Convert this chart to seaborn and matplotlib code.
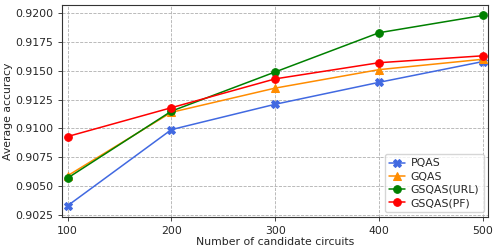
import pandas as pd
import seaborn as sns
import matplotlib.pyplot as plt

circuits = [100, 200, 300, 400, 500]
pqas = [0.9033, 0.9099, 0.9121, 0.9140, 0.9158]
gqas = [0.9059, 0.9114, 0.9135, 0.9151, 0.9160]
gsqas_url = [0.9057, 0.9115, 0.9149, 0.9183, 0.9198]
gsqas_pf = [0.9093, 0.9118, 0.9143, 0.9157, 0.9163]

series = {
    "PQAS": (pqas, "royalblue", "X"),
    "GQAS": (gqas, "darkorange", "^"),
    "GSQAS(URL)": (gsqas_url, "green", "o"),
    "GSQAS(PF)": (gsqas_pf, "red", "o"),
}

sns.set_style("ticks")
plt.rcParams['font.family'] = ['DejaVu Sans']
fs = 7.8

fig, ax = plt.subplots(figsize=(4.99, 2.52), dpi=100)
for name, (vals, color, marker) in series.items():
    df = pd.DataFrame({"x": circuits, "y": vals})
    sns.lineplot(data=df, x="x", y="y", ax=ax, color=color, marker=marker,
                 markersize=5.5, markeredgecolor=color, linewidth=1.1, label=name)

ax.set_xlim(95, 505)
ax.set_ylim(0.90235, 0.92070)
ax.set_xticks(circuits)
ax.set_yticks([0.9025, 0.9050, 0.9075, 0.9100, 0.9125, 0.9150, 0.9175, 0.9200])
ax.yaxis.set_major_formatter(plt.FormatStrFormatter('%.4f'))
ax.grid(True, linestyle='--', color='#b0b0b0', linewidth=0.6)
ax.tick_params(labelsize=fs, length=3, width=0.6)
for s in ax.spines.values():
    s.set_color('#333333')
    s.set_linewidth(0.8)
ax.set_xlabel("Number of candidate circuits", fontsize=fs, labelpad=1)
ax.set_ylabel("Average accuracy", fontsize=fs, labelpad=1.5)
ax.legend(loc='lower right', fontsize=fs, handlelength=1.5, borderpad=0.4,
          labelspacing=0.3, handletextpad=0.5, borderaxespad=0.4)
fig.subplots_adjust(left=0.125, right=0.978, top=0.98, bottom=0.14)
fig.savefig("out.png", dpi=100)
